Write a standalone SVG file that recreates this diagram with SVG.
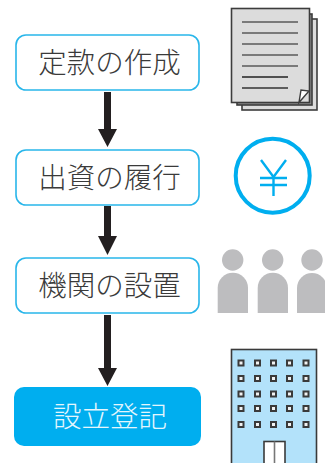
<svg xmlns="http://www.w3.org/2000/svg" width="325" height="463" viewBox="0 0 325 463">
<style>
.box{fill:#fff;stroke:#29b6ea;stroke-width:1.6}
.t{font-family:"Noto Sans CJK JP",sans-serif;font-size:28.5px;font-weight:300;fill:#3a3a3a;text-anchor:middle}
.arrow{fill:#231f20}
.sheet{fill:#dcdcdc;stroke:#3c3c3c;stroke-width:1.6}
.ln{stroke:#5a5a5a;stroke-width:1.6}
.p{fill:#bdbdbf}
.w{fill:#f2f2f2;stroke:#3a3a3a;stroke-width:2}
.yen{fill:none;stroke:#00aeef;stroke-width:2.4}
</style>
<g id="connectors">
<polygon class="arrow" points="104,92 111,92 111,129 117,129 107.5,147 98,129 104,129"/>
<polygon class="arrow" points="104,206 111,206 111,236 117,236 107.5,255 98,236 104,236"/>
<polygon class="arrow" points="104,315 111,315 111,368 117,368 107.5,386 98,368 104,368"/>
</g>
<g id="node-teikan"><rect class="box" x="16" y="35" width="183" height="55" rx="10"/><text class="t" x="109.500" y="72.500">定款の作成</text></g>
<g id="node-shusshi"><rect class="box" x="16" y="150" width="183" height="55" rx="10"/><text class="t" x="109.500" y="187.500">出資の履行</text></g>
<g id="node-kikan"><rect class="box" x="16" y="258" width="183" height="55" rx="10"/><text class="t" x="109.500" y="295.500">機関の設置</text></g>
<g id="node-touki"><rect x="14" y="387" width="187" height="59" rx="10" fill="#00aeef"/><text class="t" x="110" y="426.500" style="fill:#e4f6fd">設立登記</text></g>
<g id="icon-document">
<rect class="sheet" x="242" y="19" width="75" height="91"/>
<rect x="237" y="14" width="75" height="91" fill="#8c8c8c" stroke="#3c3c3c" stroke-width="1.6"/>
<rect class="sheet" x="231.500" y="8.500" width="78" height="94"/>
<g class="ln">
<line x1="242" x2="298" y1="22" y2="22"/><line x1="242" x2="298" y1="33" y2="33"/><line x1="242" x2="298" y1="44" y2="44"/><line x1="242" x2="298" y1="55" y2="55"/><line x1="242" x2="298" y1="66" y2="66"/>
<line x1="242" x2="288" y1="77" y2="77" stroke="#222"/><line x1="242" x2="288" y1="88" y2="88" stroke="#333"/>
</g>
<polygon points="299,102.500 309,91 301,90" fill="#fff" stroke="#3c3c3c" stroke-width="1.4"/>
</g>
<g id="icon-yen">
<circle cx="272.700" cy="175.700" r="37" fill="none" stroke="#00aeef" stroke-width="4"/>
<path class="yen" d="M261 160L273.500 177L286 160M273.500 177V196M260 178H287M260 185H287"/>
</g>
<g id="icon-people">
<circle class="p" cx="232.700" cy="260" r="10.700"/><path class="p" d="M217.700 313V288A15 15 0 0 1 248 288V313Z"/>
<circle class="p" cx="272.700" cy="260" r="10.700"/><path class="p" d="M257.700 313V288A15 15 0 0 1 288 288V313Z"/>
<circle class="p" cx="312" cy="260" r="10.700"/><path class="p" d="M297 313V288A15 15 0 0 1 327 288V313Z"/>
</g>
<g id="icon-building">
<rect x="231.500" y="349.500" width="85" height="120" fill="#b3e2fa" stroke="#3a3a3a" stroke-width="1.6"/>
<g class="w">
<rect x="238.500" y="360.500" width="5" height="5"/><rect x="255" y="360.500" width="5" height="5"/><rect x="271" y="360.500" width="5" height="5"/><rect x="287" y="360.500" width="5" height="5"/><rect x="303.500" y="360.500" width="5" height="5"/>
<rect x="238.500" y="376" width="5" height="5"/><rect x="255" y="376" width="5" height="5"/><rect x="271" y="376" width="5" height="5"/><rect x="287" y="376" width="5" height="5"/><rect x="303.500" y="376" width="5" height="5"/>
<rect x="238.500" y="391.500" width="5" height="5"/><rect x="255" y="391.500" width="5" height="5"/><rect x="271" y="391.500" width="5" height="5"/><rect x="287" y="391.500" width="5" height="5"/><rect x="303.500" y="391.500" width="5" height="5"/>
<rect x="238.500" y="406" width="5" height="5"/><rect x="255" y="406" width="5" height="5"/><rect x="271" y="406" width="5" height="5"/><rect x="287" y="406" width="5" height="5"/><rect x="303.500" y="406" width="5" height="5"/>
<rect x="238.500" y="422" width="5" height="5"/><rect x="255" y="422" width="5" height="5"/><rect x="271" y="422" width="5" height="5"/><rect x="287" y="422" width="5" height="5"/><rect x="303.500" y="422" width="5" height="5"/>
</g>
<rect x="264" y="441.500" width="21" height="25" fill="#fff" stroke="#3a3a3a" stroke-width="1.6"/>
<line x1="274.500" y1="441.500" x2="274.500" y2="463" stroke="#777" stroke-width="1.6"/>
</g>
</svg>
